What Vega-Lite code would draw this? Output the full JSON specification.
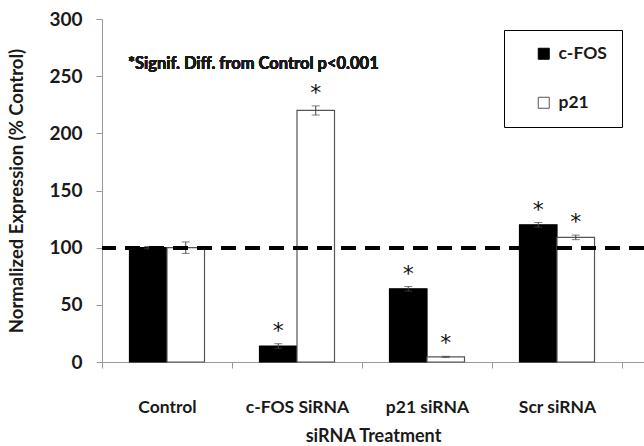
{
  "$schema": "https://vega.github.io/schema/vega-lite/v6.json",
  "width": 542,
  "height": 343,
  "autosize": "none",
  "padding": {"left": 102, "top": 19, "right": 0, "bottom": 84},
  "background": "white",
  "config": {
    "view": {"stroke": null},
    "font": "Lato",
    "axis": {"labelColor": "#1a1a1a", "titleColor": "#1a1a1a", "domainColor": "#999", "tickColor": "#999", "grid": false}
  },
  "data": {
    "values": [
      {"treatment": "Control", "gene": "c-FOS", "value": 100, "lo": 99, "hi": 101, "sig": ""},
      {"treatment": "Control", "gene": "p21", "value": 100, "lo": 95, "hi": 105, "sig": ""},
      {"treatment": "c-FOS SiRNA", "gene": "c-FOS", "value": 14, "lo": 12, "hi": 16, "sig": "*"},
      {"treatment": "c-FOS SiRNA", "gene": "p21", "value": 220, "lo": 216, "hi": 224, "sig": "*"},
      {"treatment": "p21 siRNA", "gene": "c-FOS", "value": 64, "lo": 62, "hi": 66, "sig": "*"},
      {"treatment": "p21 siRNA", "gene": "p21", "value": 4.5, "lo": 4, "hi": 5, "sig": "*"},
      {"treatment": "Scr siRNA", "gene": "c-FOS", "value": 120, "lo": 118, "hi": 122, "sig": "*"},
      {"treatment": "Scr siRNA", "gene": "p21", "value": 109, "lo": 107, "hi": 111, "sig": "*"}
    ]
  },
  "encoding": {
    "x": {
      "field": "treatment",
      "type": "nominal",
      "sort": ["Control", "c-FOS SiRNA", "p21 siRNA", "Scr siRNA"],
      "scale": {"paddingInner": 0, "paddingOuter": 0.0846, "align": 0},
      "axis": {
        "title": "siRNA Treatment",
        "labelAngle": 0,
        "tickBand": "extent",
        "tickSize": 6,
        "labelPadding": 30,
        "labelFontSize": 17.5,
        "labelFontWeight": "bold",
        "titleFontSize": 18,
        "titleFontWeight": "bold",
        "titlePadding": 12
      }
    },
    "xOffset": {
      "field": "gene",
      "type": "nominal",
      "scale": {"domain": ["c-FOS", "p21"], "paddingInner": 0, "paddingOuter": 0.733}
    }
  },
  "layer": [
    {
      "mark": {"type": "bar", "strokeWidth": 1.2},
      "encoding": {
        "y": {
          "field": "value",
          "type": "quantitative",
          "scale": {"domain": [0, 300]},
          "axis": {
            "title": "Normalized Expression (% Control)",
            "values": [0, 50, 100, 150, 200, 250, 300],
            "tickSize": 6,
            "labelPadding": 14,
            "labelFontSize": 19,
            "labelFontWeight": "bold",
            "titleFontSize": 18.5,
            "titleFontWeight": "bold",
            "titlePadding": 22
          }
        },
        "fill": {
          "field": "gene",
          "type": "nominal",
          "scale": {"domain": ["c-FOS", "p21"], "range": ["black", "white"]},
          "legend": {
            "title": null,
            "orient": "none",
            "legendX": 402,
            "legendY": 11,
            "strokeColor": "black",
            "fillColor": "white",
            "padding": 15,
            "symbolType": "square",
            "symbolSize": 121,
            "symbolStrokeColor": "#333",
            "symbolStrokeWidth": 1,
            "symbolOffset": 16,
            "labelOffset": 6,
            "labelFontSize": 17.5,
            "labelFontWeight": "bold",
            "labelColor": "#1a1a1a",
            "labelExpr": "datum.label + '\u00a0\u00a0\u00a0'",
            "rowPadding": 30
          }
        },
        "stroke": {
          "field": "gene",
          "type": "nominal",
          "scale": {"domain": ["c-FOS", "p21"], "range": ["black", "#555"]},
          "legend": null
        }
      }
    },
    {
      "mark": {"type": "rule", "color": "#444", "strokeWidth": 1},
      "encoding": {
        "y": {"field": "lo", "type": "quantitative"},
        "y2": {"field": "hi"}
      }
    },
    {
      "mark": {"type": "tick", "color": "#444", "size": 8, "thickness": 1},
      "encoding": {"y": {"field": "lo", "type": "quantitative"}}
    },
    {
      "mark": {"type": "tick", "color": "#444", "size": 8, "thickness": 1},
      "encoding": {"y": {"field": "hi", "type": "quantitative"}}
    },
    {
      "mark": {"type": "text", "font": "DejaVu Sans", "fontSize": 22, "fill": "#111", "baseline": "middle", "dy": -13},
      "encoding": {
        "y": {"field": "hi", "type": "quantitative"},
        "text": {"field": "sig"}
      }
    },
    {
      "mark": {"type": "rule", "color": "black", "strokeWidth": 3.5, "strokeDash": [15, 9]},
      "encoding": {"y": {"datum": 100}, "x": null, "xOffset": null}
    },
    {
      "mark": {"type": "text", "fontSize": 16.5, "fontWeight": "bold", "fill": "#1a1a1a", "align": "left", "baseline": "middle", "dx": 26},
      "encoding": {
        "x": {"datum": "Control", "bandPosition": 0},
        "xOffset": null,
        "y": {"datum": 261},
        "text": {"value": "*Signif. Diff. from Control p<0.001"}
      }
    }
  ]
}
